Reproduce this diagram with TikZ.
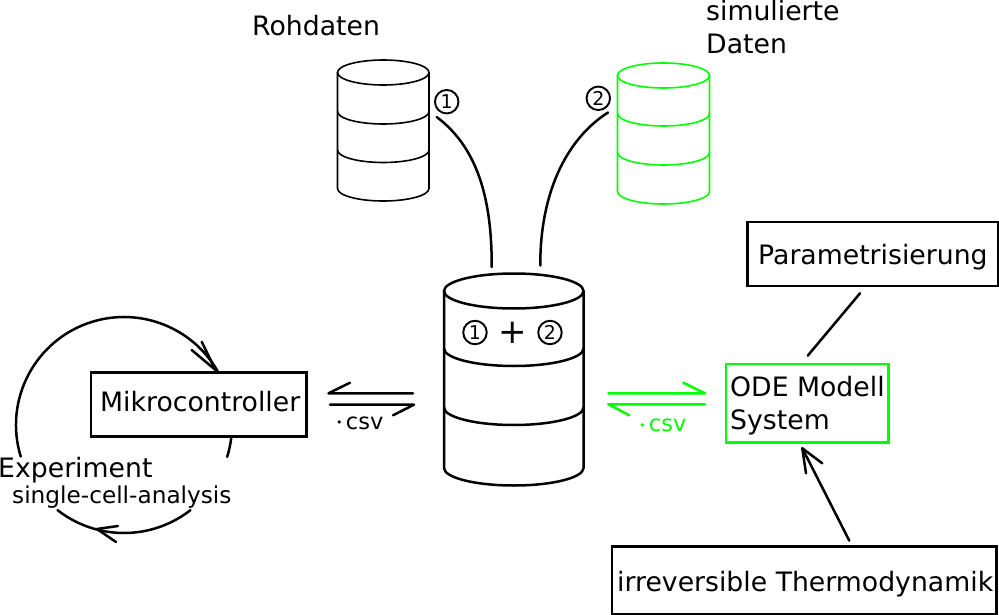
\documentclass[tikz,border=0pt]{standalone}
\usepackage{fontspec}
\setmainfont{DejaVu Sans}
\definecolor{lime}{RGB}{0,255,0}
\tikzset{
  wire/.style={line width=2.5pt,line cap=round,line join=round},
  thin wire/.style={line width=1.6pt},
  label/.style={inner sep=0pt,font=\fontsize{26.7}{30}\selectfont,anchor=base west},
  small label/.style={inner sep=0pt,font=\fontsize{23.2}{26}\selectfont,anchor=base west},
  mark digit/.style={circle,draw,line width=1.9pt,inner sep=0pt,outer sep=0pt,minimum size=23.5pt,font=\fontsize{19}{20}\selectfont},
  boxed/.style={draw,line width=2.7pt,inner sep=0pt,outer sep=0pt,anchor=north west},
}
\newcommand{\csvtext}{\raisebox{2.5pt}{\fontsize{11}{11}\selectfont •}\kern 3.5pt csv}
% #1 options, #2 left x, #3 right x, #4 top centre y, #5 ry, #6,#7,#8 side y of the bands and of the base
\newcommand{\dbcyl}[8]{%
  \pgfmathsetmacro{\cx}{(#2+#3)/2}\pgfmathsetmacro{\rx}{(#3-#2)/2}
  \draw[#1,x radius=\rx pt,y radius=#5 pt] (\cx,#4) ellipse [];
  \draw[#1] (#2,#4) -- (#2,#8) arc[start angle=180,end angle=0,x radius=\rx pt,y radius=#5 pt] -- (#3,#4);
  \draw[#1] (#2,#6) arc[start angle=180,end angle=0,x radius=\rx pt,y radius=#5 pt];
  \draw[#1] (#2,#7) arc[start angle=180,end angle=0,x radius=\rx pt,y radius=#5 pt];
}
\begin{document}
\begin{tikzpicture}[x=1pt,y=1pt,yscale=-1]
\useasboundingbox (0,0) rectangle (999,615);
% cylinders
\dbcyl{thin wire}{337.5}{429}{72.5}{12.5}{111.5}{150}{188.5}
\dbcyl{thin wire,lime}{617.5}{709.5}{75.5}{12.5}{113.5}{152.5}{191.5}
\dbcyl{line width=2.5pt}{444}{583.5}{291}{17.5}{348.5}{407.5}{468}
% labels
\node[label] (roh) at (252,36) {Rohdaten};
\node[label] (sim) at (706,21) {simulierte};
\node[label] (dat) at (706,54) {Daten};
\node[mark digit] (c1) at (446.7,101.7) {1};
\node[mark digit] (c2) at (598.3,98.3) {2};
\node[mark digit] (d1) at (475,332.5) {1};
\node[mark digit] (d2) at (550,332.5) {2};
\node[inner sep=0pt,font=\fontsize{34}{36}\selectfont] (plus) at (513,332.7) {+};
% boxes
\node[boxed,minimum width=215.7pt,minimum height=64.4pt] (mc) at (91,372.3) {};
\node[label] at (100,411) {Mikrocontroller};
\node[boxed,minimum width=250.7pt,minimum height=64pt] (par) at (747.3,222) {};
\node[label] at (758,264.5) {Parametrisierung};
\node[boxed,draw=lime,minimum width=162.7pt,minimum height=78.7pt] (ode) at (726,364) {};
\node[label] at (730,396) {ODE Modell};
\node[label] at (730,429) {System};
\node[boxed,minimum width=384.7pt,minimum height=67.3pt] (irr) at (612,546.7) {};
\node[label] at (617,591) {irreversible Thermodynamik};
\node[label] (exp) at (-2,477) {Experiment};
\node[small label] (sca) at (12,503) {single-cell-analysis};
\node[small label,font=\fontsize{22.5}{26}\selectfont] (csv) at (335.8,429.3) {\csvtext};
\node[small label,font=\fontsize{22.5}{26}\selectfont,lime] (csvg) at (638.8,431.7) {\csvtext};
% curved feeds
\coordinate (f1a) at (436.7,117);
\coordinate (f1b) at (491.7,267);
\coordinate (f2a) at (608,112.5);
\coordinate (f2b) at (540.3,265.5);
\draw[wire] (f1a) .. controls (478,148) and (492,200) .. (f1b);
\draw[wire] (f2a) .. controls (565,140) and (540,195) .. (f2b);
% loop
\coordinate (lc) at (124,425);
\draw[wire] (lc) ++(163:108pt) arc[start angle=163,end angle=330,radius=108pt];
\draw[wire] (lc) ++(6.4:108pt) arc[start angle=6.4,end angle=17.2,radius=108pt];
\draw[wire] (lc) ++(52:108pt) arc[start angle=52,end angle=128,radius=108pt];
\coordinate (t1) at (215.5,370);
\draw[wire] (201.7,341.7) -- (t1) -- (191.7,350);
\coordinate (t2) at (97,529);
\draw[wire] (118,526) -- (t2) -- (116,542);
% exchange arrows, left
\coordinate (la) at (328.5,393.3); \coordinate (lb) at (413,393.3);
\coordinate (lc2) at (330,404.7); \coordinate (ld) at (414,404.7);
\draw[wire] (350,382.7) -- (la) -- (lb);
\draw[wire] (lc2) -- (ld) -- (393,415.3);
% exchange arrows, right
\coordinate (ra) at (608.3,393.3); \coordinate (rb) at (705,393.3);
\coordinate (rc) at (608.3,404.3); \coordinate (rd) at (705,404.3);
\draw[wire,lime] (ra) -- (rb) -- (683.3,382.7);
\draw[wire,lime] (629.3,415.3) -- (rc) -- (rd);
% model links
\coordinate (pa) at (860,293.3); \coordinate (pb) at (807.7,355.7);
\draw[wire] (pa) -- (pb);
\coordinate (ia) at (849.3,540.7); \coordinate (ib) at (802.3,448.3);
\draw[wire] (ia) -- (ib);
\draw[wire] (806,473.3) -- (ib) -- (822.3,463.3);
\end{tikzpicture}
\end{document}
